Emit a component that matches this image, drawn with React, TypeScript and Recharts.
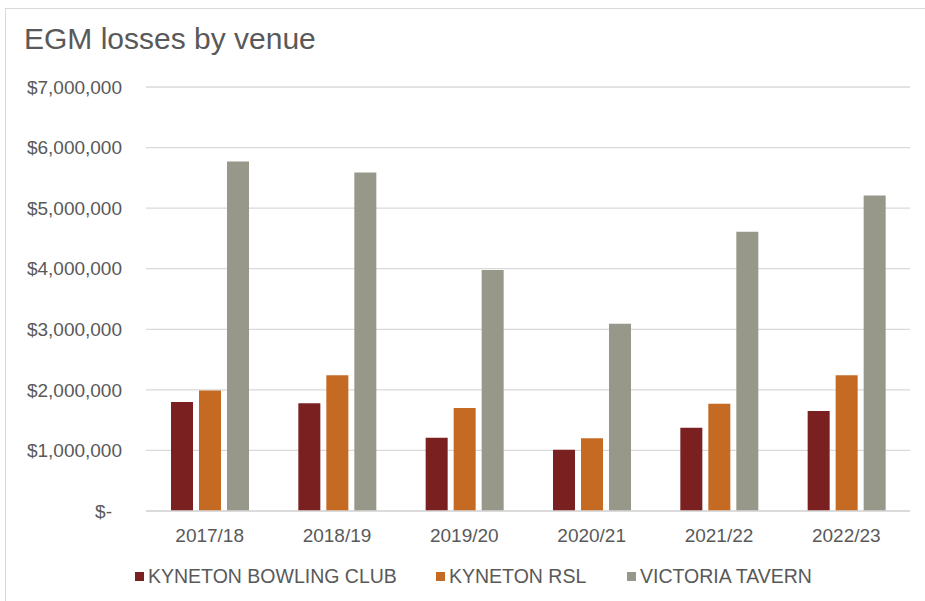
import React from 'react';
import { BarChart, Bar, XAxis, YAxis, CartesianGrid } from 'recharts';

const years = ['2017/18', '2018/19', '2019/20', '2020/21', '2021/22', '2022/23'];
const bowlingClub = [1800000, 1780000, 1210000, 1010000, 1375000, 1650000];
const rsl = [1990000, 2240000, 1700000, 1200000, 1770000, 2240000];
const victoriaTavern = [5770000, 5590000, 3980000, 3090000, 4610000, 5210000];
const yTicks = [0, 1000000, 2000000, 3000000, 4000000, 5000000, 6000000, 7000000];

const series = [
  { key: 'bowling', name: 'KYNETON BOWLING CLUB', color: '#7B2020', values: bowlingClub, legendX: 135 },
  { key: 'rsl', name: 'KYNETON RSL', color: '#C46A22', values: rsl, legendX: 436 },
  { key: 'tavern', name: 'VICTORIA TAVERN', color: '#97978A', values: victoriaTavern, legendX: 627 },
];

const data = years.map((year, i) => ({
  year,
  bowling: bowlingClub[i],
  rsl: rsl[i],
  tavern: victoriaTavern[i],
}));

const FONT = '"Liberation Sans", Arial, sans-serif';
const TEXT = '#595959';
const GRID = '#D9D9D9';

function YTick({ x, y, payload }: any) {
  const v = payload.value as number;
  const label = v === 0 ? '$-' : '$' + v.toLocaleString('en-US');
  return (
    <text x={v === 0 ? x - 10 : x} y={y} dy="0.355em" textAnchor="end" fill={TEXT} fontSize={19} fontFamily={FONT}>
      {label}
    </text>
  );
}

export default function App() {
  return (
    <div style={{ position: 'absolute', left: 0, top: 0, width: 925, height: 601, background: '#fff', overflow: 'hidden' }}>
      <div
        style={{
          position: 'absolute',
          left: 5,
          top: 8,
          width: 940,
          height: 620,
          borderLeft: `1px solid ${GRID}`,
          borderTop: `1px solid ${GRID}`,
        }}
      />
      <div
        style={{
          position: 'absolute',
          left: 24,
          top: 23.5,
          fontSize: 30,
          lineHeight: '30px',
          fontFamily: FONT,
          color: TEXT,
          whiteSpace: 'nowrap',
        }}
      >
        EGM losses by venue
      </div>
      <div style={{ position: 'absolute', left: 0, top: 0 }}>
        <BarChart
          width={925}
          height={601}
          data={data}
          margin={{ top: 87, right: 15, bottom: 0, left: 0 }}
          barSize={22}
          barGap={6}
        >
          <CartesianGrid vertical={false} stroke={GRID} strokeWidth={1.3} />
          <XAxis
            dataKey="year"
            height={90}
            tickSize={0}
            tickMargin={18}
            axisLine={{ stroke: GRID, strokeWidth: 1.3 }}
            tick={{ fill: TEXT, fontSize: 19, fontFamily: FONT }}
            interval={0}
          />
          <YAxis
            width={146}
            domain={[0, 7000000]}
            ticks={yTicks}
            tickSize={0}
            tickMargin={24}
            axisLine={false}
            tickLine={false}
            tick={<YTick />}
            interval={0}
          />
          {series.map((s) => (
            <Bar key={s.key} dataKey={s.key} name={s.name} fill={s.color} isAnimationActive={false} />
          ))}
        </BarChart>
      </div>
      {series.map((s) => (
        <div
          key={s.key}
          style={{
            position: 'absolute',
            left: s.legendX,
            top: 565,
            height: 23,
            display: 'flex',
            alignItems: 'center',
            fontSize: 19.5,
            fontFamily: FONT,
            color: TEXT,
            whiteSpace: 'nowrap',
          }}
        >
          <span style={{ display: 'inline-block', width: 9, height: 9, background: s.color, marginRight: 4 }} />
          {s.name}
        </div>
      ))}
    </div>
  );
}
